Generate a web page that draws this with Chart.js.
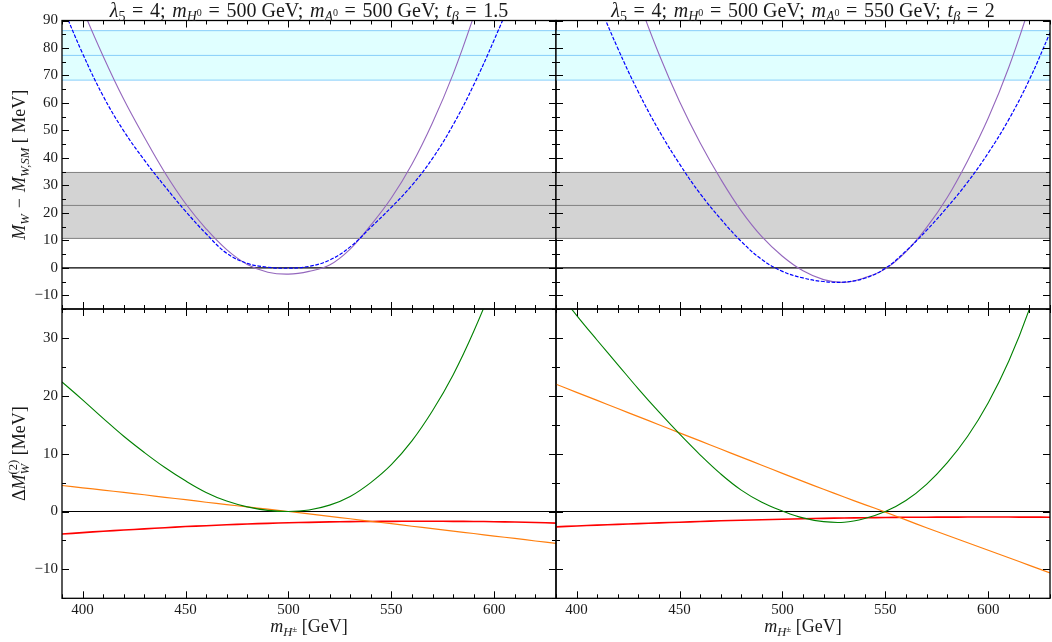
<!DOCTYPE html>
<html>
<head>
<meta charset="utf-8">
<script src="https://cdn.jsdelivr.net/npm/chart.js@4.4.1/dist/chart.umd.min.js"></script>
<style>
  html, body { margin: 0; padding: 0; background: #fff; }
  #wrap { position: relative; width: 1052px; height: 642px; }
  #wrap canvas { position: absolute; left: 0; top: 0; }
</style>
</head>
<body>
<div id="wrap">
  <canvas id="tl" width="1052" height="642"></canvas>
  <canvas id="tr" width="1052" height="642"></canvas>
  <canvas id="bl" width="1052" height="642"></canvas>
  <canvas id="br" width="1052" height="642"></canvas>
</div>
<script>
// charged Higgs mass grid [GeV]
const mH = [390, 400, 410, 420, 430, 440, 450, 460, 470, 480, 490, 500, 510,
            520, 530, 540, 550, 560, 570, 580, 590, 600, 610, 620, 630];

// top row: M_W - M_W,SM [MeV]
const tlPurple = [114, 94.3, 77, 61.3, 47.5, 34.6, 23.4, 14.2, 6.6, 1.2, -1.6, -2.3, -1.3,
                  1.0, 6.8, 15.5, 25.4, 37.7, 52.8, 70.5, 91.5, 115, 141, 170, 201];
const tlBlue = [95.5, 78, 62.5, 49.8, 39.2, 29.6, 20.6, 12.4, 5.3, 1.6, 0.2, -0.15, 0.5,
                2.8, 7.6, 14.7, 22.0, 30.0, 39.8, 52.0, 66.5, 83, 101, 121, 143];
const trPurple = [185, 162, 139, 118, 97.4, 77.8, 60.5, 45.5, 32.3, 20.7, 11.3, 4.2, -1.1,
                  -4.3, -5.3, -3.6, -0.4, 5.8, 14.6, 25.5, 39.0, 54.5, 73, 95, 119];
const trBlue = [138, 117, 97.6, 79.9, 64, 50, 37.8, 27, 17.8, 9.6, 3, -1.3, -3.7,
                -5, -5.2, -3.8, -0.2, 6.1, 13.6, 22, 31.2, 41.8, 54, 68.5, 85.5];

// measurement bands [low, central, high]
const cyanBand = [68.3, 77.3, 86.3];
const grayBand = [10.7, 22.7, 34.7];

// bottom row: Delta M_W^(2) [MeV]
const blGreen = [22.4, 19.3, 16.1, 13.0, 10.2, 7.6, 5.3, 3.3, 1.8, 0.8, 0.2, 0, 0.27,
                 1.1, 2.6, 5.0, 8.1, 12.2, 17.4, 23.6, 31.1, 39.8, 50, 61, 75];
const blOrange = [4.5, 4.1, 3.7, 3.3, 2.9, 2.45, 2.05, 1.6, 1.2, 0.8, 0.4, 0, -0.4,
                  -0.85, -1.25, -1.7, -2.1, -2.55, -2.95, -3.4, -3.8, -4.25, -4.65, -5.1, -5.5];
const blRed = [-3.9, -3.65, -3.4, -3.2, -3.0, -2.8, -2.6, -2.45, -2.3, -2.15, -2.05, -1.95, -1.87,
               -1.8, -1.75, -1.72, -1.7, -1.68, -1.68, -1.7, -1.72, -1.76, -1.82, -1.9, -2.0];
const brGreen = [38.5, 33.9, 29.6, 25.4, 21.2, 17.2, 13.4, 9.8, 6.5, 3.7, 1.6, 0.1, -1.1,
                 -1.75, -1.85, -1.2, 0, 1.9, 4.7, 8.4, 13.0, 18.8, 26, 35, 46];
const brOrange = [22, 20.6, 19.2, 17.8, 16.4, 15.0, 13.6, 12.2, 10.8, 9.4, 8.0, 6.6, 5.2,
                  3.85, 2.5, 1.2, -0.1, -1.45, -2.8, -4.1, -5.4, -6.7, -8.0, -9.3, -10.6];
const brRed = [-2.65, -2.5, -2.35, -2.22, -2.1, -1.97, -1.85, -1.72, -1.6, -1.5, -1.42, -1.33, -1.25,
               -1.18, -1.12, -1.07, -1.03, -1.0, -0.98, -0.97, -0.96, -0.96, -0.96, -0.97, -0.98];

// tick labels
const xTicks = [400, 450, 500, 550, 600];
const yTicksTop = [-10, 0, 10, 20, 30, 40, 50, 60, 70, 80, 90];
const yTicksBottom = [-10, 0, 10, 20, 30];

const FONT = "'Liberation Serif', 'Times New Roman', serif";
const INK = '#1a1a1a';
const SP = '\u2004';   // a bit wider than a normal space, like mathtext

// rich text: [text, style]
function partFont(st, S) {
  const it = (st === 'i' || st === 'subi') ? 'italic ' : '';
  let sz = S;
  if (st === 'sub' || st === 'subi' || st === 'sup') sz = S * 0.7;
  if (st === 'ss') sz = S * 0.5;
  return it + sz.toFixed(1) + 'px ' + FONT;
}
function partDy(st, S) {
  if (st === 'sub' || st === 'subi') return S * 0.22;
  if (st === 'sup') return -S * 0.38;
  if (st === 'ss') return -S * 0.02;
  return 0;
}
function drawRich(ctx, parts, x, y, S, angle) {
  ctx.save();
  ctx.translate(x, y);
  if (angle) ctx.rotate(angle);
  ctx.fillStyle = INK;
  ctx.textAlign = 'left';
  ctx.textBaseline = 'alphabetic';
  const widths = parts.map(p => {
    if (p[1] === 'stack') {
      ctx.font = partFont('subi', S); const a = ctx.measureText(p[0]).width;
      ctx.font = partFont('sup', S); const b = ctx.measureText(p[2]).width;
      return Math.max(a, b);
    }
    ctx.font = partFont(p[1], S);
    return ctx.measureText(p[0]).width;
  });
  let cx = -widths.reduce((s, w) => s + w, 0) / 2;
  parts.forEach((p, i) => {
    if (p[1] === 'stack') {
      ctx.font = partFont('subi', S); ctx.fillText(p[0], cx, partDy('subi', S));
      ctx.font = partFont('sup', S); ctx.fillText(p[2], cx, -S * 0.45);
    } else {
      ctx.font = partFont(p[1], S);
      ctx.fillText(p[0], cx, partDy(p[1], S));
    }
    cx += widths[i];
  });
  ctx.restore();
}

const EQ = SP + '=' + SP;
function titleParts(mA, tb) {
  return [['λ', 'i'], ['5', 'sub'], [EQ + '4;' + SP, 'r'], ['m', 'i'], ['H', 'subi'], ['0', 'ss'],
          [EQ + '500 GeV;' + SP, 'r'], ['m', 'i'], ['A', 'subi'], ['0', 'ss'],
          [EQ + mA + ' GeV;' + SP, 'r'], ['t', 'i'], ['β', 'subi'], [EQ + tb, 'r']];
}
const yTitleTop = [['M', 'i'], ['W', 'subi'], [SP + '−' + SP, 'r'], ['M', 'i'], ['W,SM', 'subi'], [' [ MeV]', 'r']];
const yTitleBottom = [['Δ', 'r'], ['M', 'i'], ['W', 'stack', '(2)'], [' [MeV]', 'r']];
const xTitle = [['m', 'i'], ['H', 'subi'], ['±', 'ss'], [' [GeV]', 'r']];

// frame, inward ticks on all sides, titles
const decor = {
  id: 'decor',
  afterDraw(chart, args, o) {
    const {ctx, chartArea: a} = chart;
    const sx = chart.scales.x, sy = chart.scales.y;
    ctx.save();
    ctx.strokeStyle = '#000';
    ctx.lineWidth = 1;
    ctx.beginPath();
    for (let v = 390; v <= 630; v += 10) {
      const len = v % 50 === 0 ? 7 : 4;
      const p = Math.round(sx.getPixelForValue(v)) + 0.5;
      ctx.moveTo(p, a.bottom); ctx.lineTo(p, a.bottom - len);
      ctx.moveTo(p, a.top); ctx.lineTo(p, a.top + len);
    }
    for (let v = o.yMin; v <= o.yMax; v += 5) {
      const len = v % 10 === 0 ? 7 : 4;
      const p = Math.round(sy.getPixelForValue(v)) + 0.5;
      ctx.moveTo(a.left, p); ctx.lineTo(a.left + len, p);
      ctx.moveTo(a.right, p); ctx.lineTo(a.right - len, p);
    }
    ctx.stroke();
    ctx.lineWidth = 1.3;
    ctx.strokeRect(a.left, a.top, a.right - a.left, a.bottom - a.top);
    ctx.restore();

    const cx = (a.left + a.right) / 2;
    if (o.title) drawRich(ctx, o.title, cx, a.top - 4, 20, 0);
    if (o.xTitle) drawRich(ctx, o.xTitle, cx, a.bottom + 34, 18, 0);
    if (o.yTitle) drawRich(ctx, o.yTitle, a.left - 37, (a.top + a.bottom) / 2, 18, -Math.PI / 2);
  }
};

function series(ys, color, extra) {
  return Object.assign({
    data: mH.map((x, i) => ({x: x, y: ys[i]})),
    borderColor: color, borderWidth: 1.2, pointRadius: 0, fill: false,
    tension: 0.4, capBezierPoints: false
  }, extra || {});
}
function hline(v, color, w, extra) {
  return Object.assign({
    data: [{x: 390, y: v}, {x: 630, y: v}],
    borderColor: color, borderWidth: w, pointRadius: 0, fill: false
  }, extra || {});
}

// box = outer space of the panel; yAxisW / xAxisH = room used by the tick labels
function makePanel(id, box, yAxisW, xAxisH, yMin, yMax, yTicks, datasets, text) {
  return new Chart(document.getElementById(id), {
    type: 'line',
    data: {datasets: datasets},
    options: {
      responsive: false,
      animation: false,
      events: [],
      devicePixelRatio: 1,
      layout: {padding: {left: box.left - yAxisW, right: box.right, top: box.top, bottom: box.bottom - xAxisH}},
      plugins: {
        legend: {display: false},
        tooltip: {enabled: false},
        filler: {drawTime: 'beforeDatasetsDraw'},
        decor: Object.assign({yMin: yMin, yMax: yMax}, text)
      },
      scales: {
        x: {
          type: 'linear', min: 390, max: 630,
          grid: {display: false, drawTicks: false}, border: {display: false},
          afterBuildTicks: s => { s.ticks = xTicks.map(v => ({value: v})); },
          afterFit: s => { s.height = xAxisH; },
          ticks: {display: xAxisH > 0, autoSkip: false, maxRotation: 0, padding: 3, color: INK,
                  font: {family: FONT, size: 15}}
        },
        y: {
          type: 'linear', min: yMin, max: yMax,
          grid: {display: false, drawTicks: false}, border: {display: false},
          afterBuildTicks: s => { s.ticks = yTicks.map(v => ({value: v})); },
          afterFit: s => { s.width = yAxisW; },
          ticks: {display: yAxisW > 0, autoSkip: false, padding: 4, color: INK,
                  font: {family: FONT, size: 15},
                  callback: v => String(v).replace('-', '\u2212')}
        }
      }
    },
    plugins: [decor]
  });
}

function topSets(purple, blue) {
  return [
    series(blue, '#0000ff', {borderDash: [3.7, 1.6], borderWidth: 1.2}),
    series(purple, '#9467bd', {borderWidth: 1.1}),
    hline(0, '#000', 1.2),
    hline(grayBand[1], '#808080', 1),
    hline(cyanBand[1], '#87cefa', 1),
    hline(grayBand[2], '#808080', 1, {fill: 6, backgroundColor: '#d3d3d3'}),
    hline(grayBand[0], '#808080', 1),
    hline(cyanBand[2], '#87cefa', 1, {fill: 8, backgroundColor: '#e0ffff'}),
    hline(cyanBand[0], '#87cefa', 1)
  ];
}
function bottomSets(green, orange, red) {
  return [
    series(green, '#008000', {borderWidth: 1.1}),
    series(orange, '#ff7f0e', {borderWidth: 1.2}),
    series(red, '#ff0000', {borderWidth: 1.6}),
    hline(0, '#000', 1.2)
  ];
}

const boxTL = {left: 62, right: 496, top: 20.5, bottom: 333};
const boxTR = {left: 556, right: 2, top: 20.5, bottom: 333};
const boxBL = {left: 62, right: 496, top: 309, bottom: 43.7};
const boxBR = {left: 556, right: 2, top: 309, bottom: 43.7};

makePanel('tl', boxTL, 62, 0, -15, 90, yTicksTop, topSets(tlPurple, tlBlue),
          {title: titleParts(500, 1.5), yTitle: yTitleTop});
makePanel('tr', boxTR, 0, 0, -15, 90, yTicksTop, topSets(trPurple, trBlue),
          {title: titleParts(550, 2)});
makePanel('bl', boxBL, 62, 43.7, -15, 35, yTicksBottom, bottomSets(blGreen, blOrange, blRed),
          {xTitle: xTitle, yTitle: yTitleBottom});
makePanel('br', boxBR, 0, 43.7, -15, 35, yTicksBottom, bottomSets(brGreen, brOrange, brRed),
          {xTitle: xTitle});
</script>
</body>
</html>
